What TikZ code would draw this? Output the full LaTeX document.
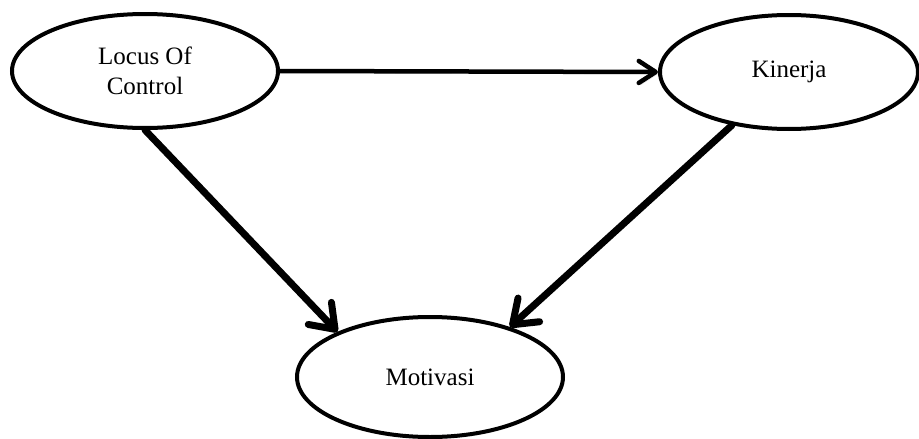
\documentclass[tikz,border=0pt]{standalone}
\usepackage{fontspec}
\setmainfont{Liberation Serif}
\usetikzlibrary{arrows.meta,shapes.geometric}
\begin{document}
\begin{tikzpicture}[x=1pt,y=-1pt,
  oval/.style={ellipse,draw=black,line width=4pt,fill=white,
    minimum width=#1,align=center,font=\fontsize{25}{30}\selectfont,
    inner sep=0pt},
  link/.style n args={3}{line width=#1,line cap=round,
    -{Straight Barb[length=#2,width=#3,line width=#1,round]},
    preaction={draw=black!35,opacity=0.35,transform canvas={shift={(2pt,-2pt)}}}}
]
\useasboundingbox (0,0) rectangle (919,439);
\node[oval=266pt,minimum height=114pt] (L) at (145,71) {Locus Of\\Control};
\node[oval=258pt,minimum height=114pt] (K) at (789,72) {Kinerja};
\node[oval=266pt,minimum height=120pt] (M) at (430,377) {Motivasi};
\draw[link={4.5pt}{17pt}{22pt}] (L.east) -- (K.west);
\draw[link={7pt}{22pt}{32pt}] (L.-90) -- (M.154);
\draw[link={7pt}{22pt}{32pt}] (K.-137) -- (M.32);
\end{tikzpicture}
\end{document}
